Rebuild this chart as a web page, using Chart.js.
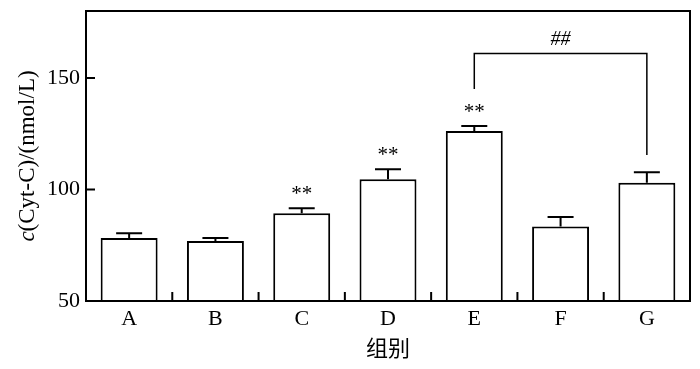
<!DOCTYPE html>
<html>
<head>
<meta charset="utf-8">
<script src="https://cdn.jsdelivr.net/npm/chart.js@4.4.0/dist/chart.umd.min.js"></script>
<style>
  html, body { margin: 0; padding: 0; background: #fff; }
</style>
</head>
<body>
<canvas id="cytChart" width="700" height="369"></canvas>
<script>
// values
const groups = ['A', 'B', 'C', 'D', 'E', 'F', 'G'];
const means = [78.2, 76.9, 89.3, 104.6, 126.2, 83.4, 103.0];
const errors = [2.2, 1.3, 2.3, 4.5, 2.3, 4.3, 4.7];
const marks = ['', '', '**', '**', '**', '', ''];
const yTicks = [50, 100, 150];
const bracketGroups = ['E', 'G'];
const bracketLevels = [161, 145, 115.5]; // top, left leg end, right leg end
const bracketLabel = '##';

const serif = '"Liberation Serif", "Times New Roman", serif';

// error bars, asterisks, bracket, frame and inner ticks
const extras = {
  id: 'extras',
  afterDatasetsDraw(chart) {
    const ctx = chart.ctx;
    const x = chart.scales.x;
    const y = chart.scales.y;
    const area = chart.chartArea;
    ctx.save();
    ctx.strokeStyle = '#000';
    ctx.fillStyle = '#000';
    ctx.lineWidth = 2;

    // error bars
    const meta = chart.getDatasetMeta(0);
    meta.data.forEach(function (bar, i) {
      const top = y.getPixelForValue(means[i] + errors[i]);
      const cx = bar.x;
      ctx.beginPath();
      ctx.moveTo(cx, bar.y);
      ctx.lineTo(cx, top);
      ctx.moveTo(cx - 13, top);
      ctx.lineTo(cx + 13, top);
      ctx.stroke();

      if (marks[i]) {
        ctx.font = '21px ' + serif;
        ctx.textAlign = 'center';
        ctx.textBaseline = 'alphabetic';
        ctx.fillText(marks[i], cx, top - 8);
      }
    });

    // significance bracket
    const x1 = x.getPixelForValue(groups.indexOf(bracketGroups[0]));
    const x2 = x.getPixelForValue(groups.indexOf(bracketGroups[1]));
    const yt = y.getPixelForValue(bracketLevels[0]);
    ctx.lineWidth = 1.5;
    ctx.beginPath();
    ctx.moveTo(x1, y.getPixelForValue(bracketLevels[1]));
    ctx.lineTo(x1, yt);
    ctx.lineTo(x2, yt);
    ctx.lineTo(x2, y.getPixelForValue(bracketLevels[2]));
    ctx.stroke();
    ctx.font = 'italic 20px ' + serif;
    ctx.textAlign = 'center';
    ctx.fillText(bracketLabel, (x1 + x2) / 2, yt - 8);

    // frame
    ctx.lineWidth = 2;
    ctx.strokeRect(area.left, area.top, area.right - area.left, area.bottom - area.top);

    // inner tick marks
    ctx.beginPath();
    for (let i = 0; i < groups.length - 1; i++) {
      const bx = (x.getPixelForValue(i) + x.getPixelForValue(i + 1)) / 2;
      ctx.moveTo(bx, area.bottom);
      ctx.lineTo(bx, area.bottom - 9);
    }
    yTicks.forEach(function (v) {
      if (v === y.min) return;
      const py = y.getPixelForValue(v);
      ctx.moveTo(area.left, py);
      ctx.lineTo(area.left + 9, py);
    });
    ctx.stroke();

    // y title with italic c
    const cy = (area.top + area.bottom) / 2;
    ctx.translate(28, cy);
    ctx.rotate(-Math.PI / 2);
    ctx.textBaseline = 'middle';
    ctx.textAlign = 'left';
    const head = 'c';
    const rest = '(Cyt-C)/(nmol/L)';
    ctx.font = 'italic 23px ' + serif;
    const w1 = ctx.measureText(head).width;
    ctx.font = '23px ' + serif;
    const w2 = ctx.measureText(rest).width;
    const start = -(w1 + w2) / 2;
    ctx.font = 'italic 23px ' + serif;
    ctx.fillText(head, start, 0);
    ctx.font = '23px ' + serif;
    ctx.fillText(rest, start + w1, 0);
    ctx.restore();
  }
};

new Chart(document.getElementById('cytChart'), {
  type: 'bar',
  data: {
    labels: groups,
    datasets: [{
      data: means,
      backgroundColor: '#fff',
      borderColor: '#000',
      borderWidth: 2,
      barPercentage: 0.66,
      categoryPercentage: 1
    }]
  },
  options: {
    responsive: false,
    animation: false,
    devicePixelRatio: 1,
    layout: { padding: { top: 11, right: 10, bottom: 0, left: 0 } },
    plugins: {
      legend: { display: false },
      tooltip: { enabled: false }
    },
    scales: {
      x: {
        grid: { display: false, drawTicks: false },
        border: { display: false },
        ticks: { color: '#000', padding: 5, font: { family: serif, size: 22 } },
        title: {
          display: true,
          text: '组别',
          color: '#000',
          font: { family: '"Noto Sans CJK SC", sans-serif', size: 22 },
          padding: { top: 0, bottom: 8 }
        },
        afterFit: function (s) { s.height = 68; s.paddingLeft = 0; s.paddingRight = 0; }
      },
      y: {
        min: 50,
        max: 180,
        grid: { display: false, drawTicks: false },
        border: { display: false },
        ticks: { color: '#000', padding: 6, font: { family: serif, size: 22 } },
        afterBuildTicks: function (s) { s.ticks = yTicks.map(function (v) { return { value: v }; }); },
        afterFit: function (s) { s.width = 86; s.paddingTop = 0; s.paddingBottom = 0; }
      }
    }
  },
  plugins: [extras]
});
</script>
</body>
</html>
